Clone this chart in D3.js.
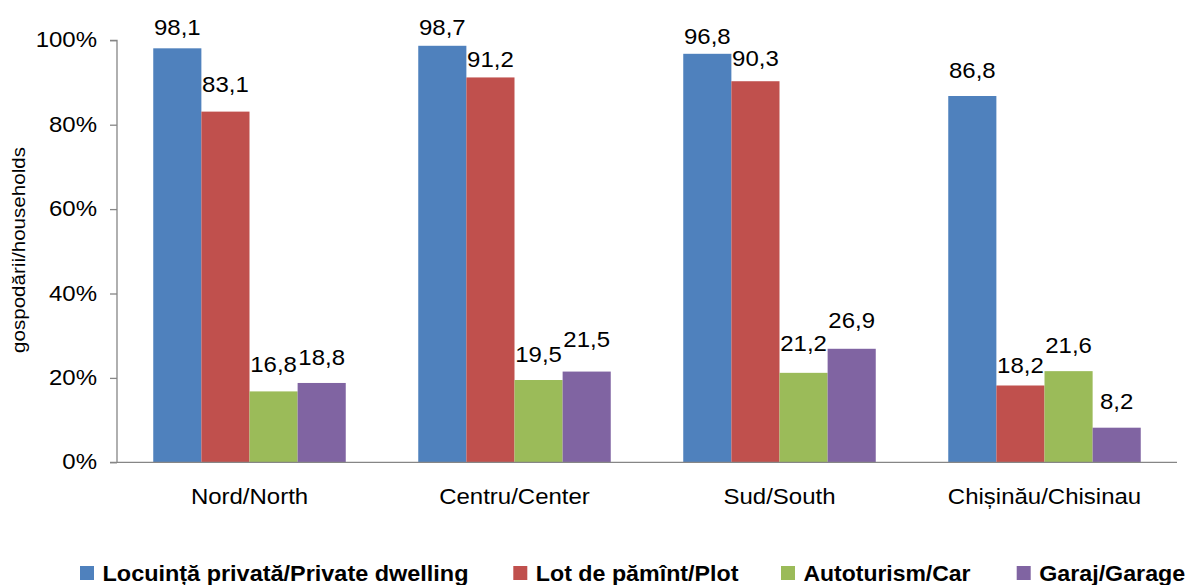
<!DOCTYPE html>
<html>
<head>
<meta charset="utf-8">
<script src="https://cdn.jsdelivr.net/npm/d3@7"></script>
<style>
  body { margin: 0; background: #fff; }
  svg { display: block; font-family: Arial, "Liberation Sans", sans-serif; }
</style>
</head>
<body>
<svg id="chart" width="1190" height="585"></svg>
<script>
const categories = ["Nord/North", "Centru/Center", "Sud/South", "Chișinău/Chisinau"];
const seriesNames = ["Locuință privată/Private dwelling", "Lot de pămînt/Plot", "Autoturism/Car", "Garaj/Garage"];
const seriesColors = ["#4F81BD", "#C0504D", "#9BBB59", "#8064A2"];
const dwelling = [98.1, 98.7, 96.8, 86.8];
const plot = [83.1, 91.2, 90.3, 18.2];
const car = [16.8, 19.5, 21.2, 21.6];
const garage = [18.8, 21.5, 26.9, 8.2];
const yTicks = [0, 20, 40, 60, 80, 100];
const yTitle = "gospodării/households";

// label gap above bar top (px), per series, per category (layout only)
const labelGap = [
  [13.5, 11, 10, 18.5],
  [20, 10, 15, 12.5],
  [19, 18, 22, 18],
  [18, 25, 21, 19]
];

const series = [dwelling, plot, car, garage];

const svg = d3.select("#chart");
const mLeft = 117, mRight = 1177, mTop = 40.3, mBottom = 462.3;
const stretch = 1.09;

function widen(sel) {
  sel.each(function () {
    const w = this.getComputedTextLength();
    d3.select(this).attr("textLength", w * stretch).attr("lengthAdjust", "spacingAndGlyphs");
  });
}

const x0 = d3.scaleBand().domain(categories).range([mLeft, mRight]).paddingInner(0).paddingOuter(0);
const groupPad = 36.25;
const x1 = d3.scaleBand().domain(d3.range(series.length)).range([groupPad, x0.bandwidth() - groupPad]).padding(0);
const y = d3.scaleLinear().domain([0, 100]).range([mBottom, mTop]);

const axisColor = "#868686";

// bars
const groups = svg.append("g").selectAll("g")
  .data(categories).join("g")
  .attr("transform", d => `translate(${x0(d)},0)`);

groups.selectAll("rect")
  .data((c, ci) => series.map((s, si) => ({si, ci, v: s[ci]})))
  .join("rect")
  .attr("x", d => x1(d.si))
  .attr("y", d => y(d.v))
  .attr("width", x1.bandwidth())
  .attr("height", d => y(0) - y(d.v))
  .attr("fill", d => seriesColors[d.si]);

groups.selectAll("text.val")
  .data((c, ci) => series.map((s, si) => ({si, ci, v: s[ci]})))
  .join("text")
  .attr("class", "val")
  .attr("x", d => x1(d.si) + x1.bandwidth() / 2)
  .attr("y", d => y(d.v) - labelGap[d.si][d.ci])
  .attr("text-anchor", "middle")
  .attr("font-size", 22)
  .attr("fill", "#000")
  .text(d => d3.format(".1f")(d.v).replace(".", ","))
  .call(widen);

// y axis
const yAxis = d3.axisLeft(y).tickValues(yTicks).tickSize(7).tickPadding(13).tickFormat(d => d + "%");
const gy = svg.append("g").attr("transform", `translate(${mLeft},0)`).call(yAxis);
gy.select(".domain").attr("stroke", axisColor).attr("stroke-width", 1.3).attr("d", `M-7,${mTop}H0V${mBottom}`);
gy.selectAll(".tick line").attr("stroke", axisColor).attr("stroke-width", 1.3);
gy.selectAll(".tick text").attr("font-size", 22).attr("fill", "#000").attr("font-family", "Arial, 'Liberation Sans', sans-serif").attr("dy", "0.3em").call(widen);

// x axis
const xAxis = d3.axisBottom(x0).tickSize(0).tickPadding(26);
const gx = svg.append("g").attr("transform", `translate(0,${mBottom})`).call(xAxis);
gx.select(".domain").attr("stroke", axisColor).attr("stroke-width", 1.3).attr("d", `M${mLeft - 7},0H${mRight}`);
gx.selectAll(".tick text").attr("font-size", 22).attr("fill", "#000").attr("font-family", "Arial, 'Liberation Sans', sans-serif").call(widen);

// y title
svg.append("text")
  .attr("transform", "translate(25,250) rotate(-90)")
  .attr("text-anchor", "middle")
  .attr("font-size", 18)
  .attr("fill", "#000")
  .attr("textLength", 206).attr("lengthAdjust", "spacingAndGlyphs")
  .text(yTitle);

// legend
const legendX = [80, 513.3, 781, 1016.7];
const legendW = [366, 202.6, 167, 146];
const leg = svg.append("g").selectAll("g")
  .data(seriesNames).join("g")
  .attr("transform", (d, i) => `translate(${legendX[i]},566)`);
leg.append("rect").attr("width", 14).attr("height", 14).attr("fill", (d, i) => seriesColors[i]);
leg.append("text")
  .attr("x", 22.5).attr("y", 14.5)
  .attr("font-size", 22).attr("font-weight", "bold").attr("fill", "#000")
  .attr("textLength", (d, i) => legendW[i]).attr("lengthAdjust", "spacingAndGlyphs")
  .text(d => d);
</script>
</body>
</html>
